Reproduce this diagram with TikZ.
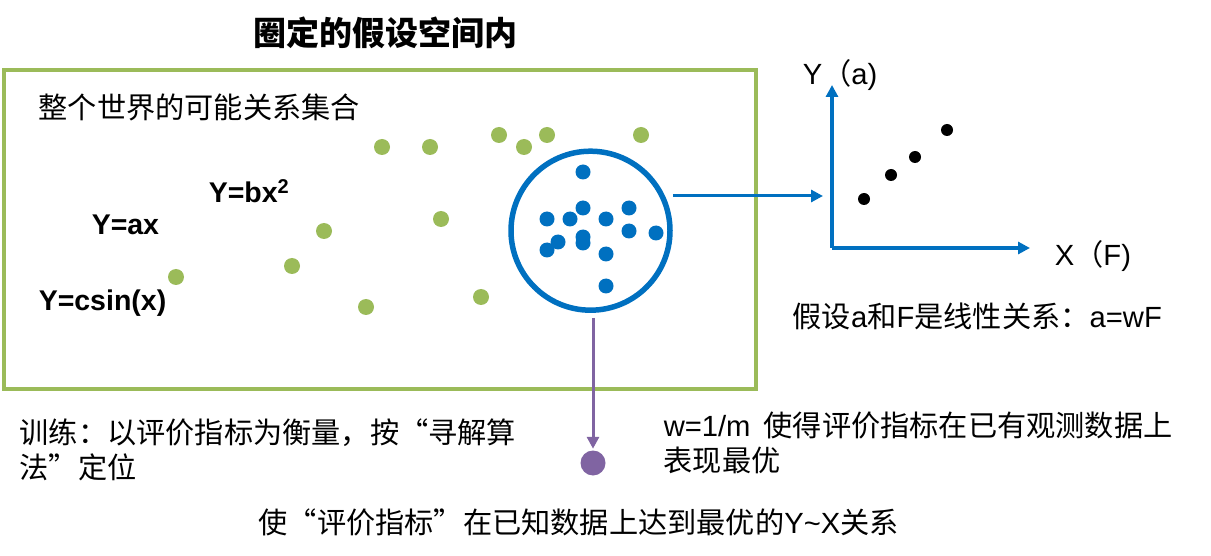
\documentclass[tikz,border=0pt]{standalone}
\usepackage{fontspec}
\setmainfont{Liberation Sans}
\newfontfamily\cjk{Noto Sans CJK SC}
\usetikzlibrary{arrows.meta}
\newcommand\ltn[1]{{\rmfamily #1}}

\definecolor{vert}{RGB}{155, 187, 89}
\definecolor{bleu}{RGB}{0, 112, 192}
\definecolor{mauve}{RGB}{128, 100, 162}

\begin{document}
\begin{tikzpicture}[x=1pt, y=-1pt, line width=3.5pt,
    txt/.style={font=\cjk\fontsize{29.2}{35}\selectfont, inner sep=0pt, anchor=west, align=left},
    formule/.style={font=\bfseries\fontsize{28.5}{34}\selectfont, inner sep=0pt, anchor=base west},
    fleche/.style={-{Triangle[length=12pt, width=12pt]}}]
  \useasboundingbox (0, 0) rectangle (1211, 556);
  \node[font=\cjk\bfseries\fontsize{33}{38}\selectfont] (titre) at (385, 33) {圈定的假设空间内};
  \draw[vert, line width=4pt] (4, 70) rectangle (756, 389);
  \node[txt] (monde) at (37, 107) {整个世界的可能关系集合};
  \node[formule] (lin) at (90, 235) {Y=ax};
  \node[formule] (quad) at (207, 203) {Y=bx\textsuperscript{2}};
  \node[formule] (sin) at (37, 310) {Y=csin(x)};
  \foreach \x/\y in {382/147, 430/147, 499/135, 524/147, 547/135, 641/135,
      324/231, 441/219, 292/266, 176/277, 366/307, 481/297}
    \fill[vert] (\x, \y) circle (8pt);
  % espace des hypotheses
  \node[circle, draw=bleu, line width=5.5pt, minimum size=159pt, inner sep=0pt] (hyp) at (590.5, 230.7) {};
  \foreach \x/\y in {583/172, 583/208, 547/219, 570/219, 606/219, 629/208, 629/231,
      656/233, 558/242, 547/250, 583/237, 583/243, 606/254, 606/286}
    \fill[bleu] (\x, \y) circle (7.5pt);
  % repere
  \coordinate (o) at (832, 248);
  \coordinate (ytop) at (832, 85);
  \coordinate (xend) at (1030, 248);
  \coordinate (hit) at (823, 196);
  \draw[bleu, fleche] (o) -- (ytop);
  \draw[bleu, fleche] (o) -- (xend);
  \draw[bleu, line width=3pt, fleche] (hyp.east |- hit) -- (hit);
  \foreach \x/\y in {864/199, 891/175, 915/157, 947/130}
    \fill (\x, \y) circle (6pt);
  \node[txt] (ya) at (801, 75) {\ltn{Y}（\ltn{a)}};
  \node[txt] (xf) at (1053, 256) {\ltn{X}（\ltn{F)}};
  \node[txt] (hyplin) at (791, 316) {假设\ltn{a}和\ltn{F}是线性关系：\ltn{a=wF}};
  % meilleur
  \node[circle, fill=mauve, minimum size=25pt, inner sep=0pt] (best) at (593, 463) {};
  \draw[mauve, line width=3pt, fleche, shorten <=5pt] (best |- hyp.south) -- (best);
  \node[txt] (train) at (18, 449.5) {训练：以评价指标为衡量，按“寻解算\\法”定位};
  \node[txt] (poids) at (662, 443) {\ltn{w=1/m}\ \ 使得评价指标在已有观测数据上\\表现最优};
  \node[txt] (but) at (257, 522) {使“评价指标”在已知数据上达到最优的\ltn{Y\textasciitilde X}关系};
\end{tikzpicture}
\end{document}
